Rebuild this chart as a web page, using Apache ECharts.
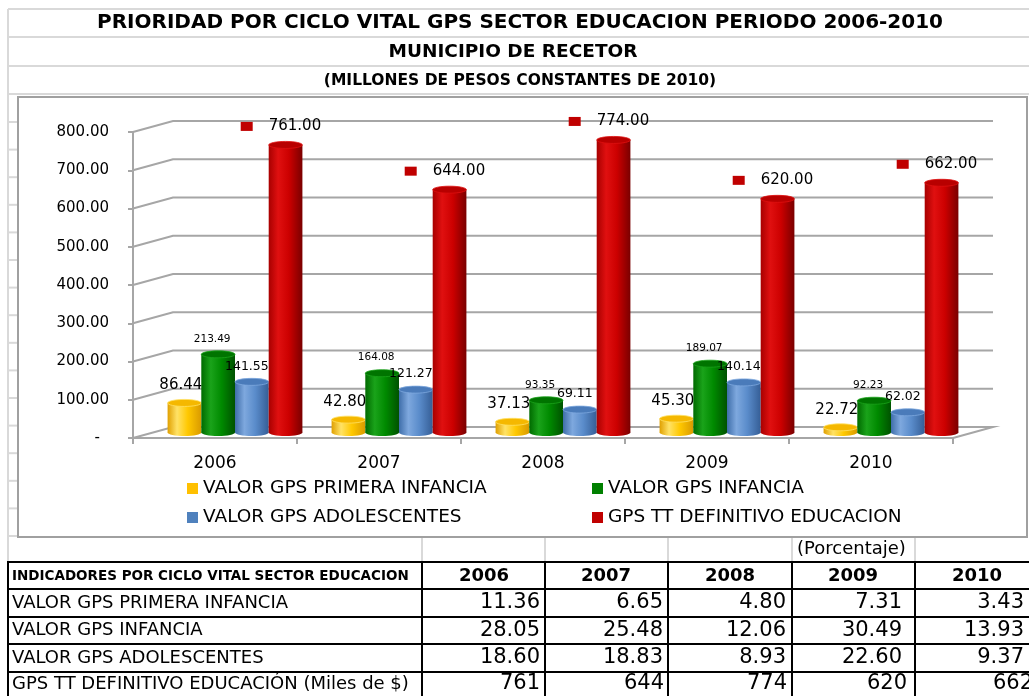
<!DOCTYPE html>
<html><head><meta charset="utf-8">
<script src="https://cdn.jsdelivr.net/npm/echarts@6/dist/echarts.min.js"></script>
<style>html,body{margin:0;padding:0;background:#fff}#c{width:1029px;height:696px}</style>
</head><body><div id="c"></div>
<script>
// ---------- DATA ----------
const titleLines = [
  'PRIORIDAD POR CICLO VITAL GPS SECTOR EDUCACION PERIODO 2006-2010',
  'MUNICIPIO DE RECETOR',
  '(MILLONES DE PESOS CONSTANTES DE 2010)'
];
const years = ['2006', '2007', '2008', '2009', '2010'];
const seriesNames = ['VALOR GPS PRIMERA INFANCIA', 'VALOR GPS INFANCIA', 'VALOR GPS ADOLESCENTES', 'GPS TT DEFINITIVO EDUCACION'];
const primeraInfancia = [86.44, 42.80, 37.13, 45.30, 22.72];
const infancia = [213.49, 164.08, 93.35, 189.07, 92.23];
const adolescentes = [141.55, 121.27, 69.11, 140.14, 62.02];
const ttEducacion = [761.00, 644.00, 774.00, 620.00, 662.00];
const yMin = 0, yMax = 800, yStep = 100;

const tableHeader = 'INDICADORES POR CICLO VITAL SECTOR EDUCACION';
const tableUnit = '(Porcentaje)';
const tableRowLabels = ['VALOR GPS PRIMERA INFANCIA', 'VALOR GPS INFANCIA', 'VALOR GPS ADOLESCENTES', 'GPS TT DEFINITIVO EDUCACIÓN (Miles de $)'];
const pctPrimeraInfancia = [11.36, 6.65, 4.80, 7.31, 3.43];
const pctInfancia = [28.05, 25.48, 12.06, 30.49, 13.93];
const pctAdolescentes = [18.60, 18.83, 8.93, 22.60, 9.37];
const totalMiles = [761, 644, 774, 620, 662];

// ---------- STYLE / LAYOUT ----------
const FONT = "'DejaVu Sans', Verdana, sans-serif";
const GRID = { left: 133, top: 132, width: 820, height: 306 };
const DX = 40, DY = -11;           // 3D depth offset of the back wall
const BAR_FRAC = 0.2055;           // bar width / category band
const CAP_RY = 3.5;
const WALL = '#a6a6a6';
const palettes = [
  { base: '#FFC000', stops: ['#E0A000', '#FFE266', '#FFC800', '#D99A00'], cap: '#F5B800' },
  { base: '#008000', stops: ['#006A00', '#1AA31A', '#008A00', '#005200'], cap: '#007400' },
  { base: '#4F81BD', stops: ['#3F6EAA', '#7EA8DE', '#5A8CCB', '#355E96'], cap: '#4A7BBA' },
  { base: '#C00000', stops: ['#A80000', '#E01010', '#CC0000', '#7A0000'], cap: '#B80000' }
];
const labelCfg = [
  { size: 15, dx: 'right', dy: -14 },
  { size: 10.5, dx: -6, dy: -12 },
  { size: 12.5, dx: -5, dy: -12 },
  { size: 15, dx: 'red', dy: -15 }
];

const seriesValues = [primeraInfancia, infancia, adolescentes, ttEducacion];
const yTickValues = [];
for (let v = yMin; v <= yMax; v += yStep) yTickValues.push(v);

function grad(st) {
  return new echarts.graphic.LinearGradient(0, 0, 1, 0, [
    { offset: 0, color: st[0] }, { offset: 0.28, color: st[1] },
    { offset: 0.6, color: st[2] }, { offset: 1, color: st[3] }
  ]);
}

function barRenderer(s) {
  const pal = palettes[s], lc = labelCfg[s];
  return function (params, api) {
    const i = api.value(0), v = api.value(1);
    const pTop = api.coord([i, v]);
    const pBase = api.coord([i, 0]);
    const band = api.size([1, 0])[0];
    const bw = band * BAR_FRAC;
    const xl = pTop[0] - 2 * bw + s * bw + DX / 2;
    const yt = pTop[1] + DY / 2 + CAP_RY;
    const yb = pBase[1] + DY / 2;
    const cx = xl + bw / 2;
    const children = [
      { type: 'ellipse', shape: { cx: cx, cy: yb, rx: bw / 2, ry: CAP_RY }, style: { fill: grad(pal.stops) } },
      { type: 'rect', shape: { x: xl, y: yt, width: bw, height: Math.max(0, yb - yt) }, style: { fill: grad(pal.stops) } },
      { type: 'ellipse', shape: { cx: cx, cy: yt, rx: bw / 2, ry: CAP_RY }, style: { fill: pal.cap, stroke: pal.stops[1], lineWidth: 0.8 } }
    ];
    const txt = v.toFixed(2);
    const ly = pTop[1] + DY / 2 + lc.dy;
    const font = lc.size + 'px ' + FONT;
    if (lc.dx === 'right') {
      children.push({ type: 'text', style: { text: txt, x: xl + bw + 1, y: ly, font: font, fill: '#000', textAlign: 'right', textVerticalAlign: 'middle' } });
    } else if (lc.dx === 'red') {
      children.push({ type: 'rect', shape: { x: xl - 28, y: ly - 4.5, width: 12, height: 9 }, style: { fill: pal.base } });
      children.push({ type: 'text', style: { text: txt, x: xl, y: ly, font: font, fill: '#000', textAlign: 'left', textVerticalAlign: 'middle' } });
    } else {
      children.push({ type: 'text', style: { text: txt, x: cx + lc.dx, y: ly, font: font, fill: '#000', textAlign: 'center', textVerticalAlign: 'middle' } });
    }
    return { type: 'group', children: children };
  };
}

function renderWall(params, api) {
  const v = api.value(1);
  const cs = params.coordSys;
  const y = api.coord([0, v])[1];
  const x0 = cs.x, x1 = cs.x + cs.width;
  const pts = [[x0, y], [x0 + DX, y + DY], [x1 + DX, y + DY]];
  if (v === yMin) pts.push([x1, y]);
  return { type: 'polyline', shape: { points: pts }, style: { stroke: WALL, lineWidth: 2, fill: null } };
}

// ---------- spreadsheet / table graphics ----------
const G = [];
const LIGHT = '#d9d9d9';
function line(x1, y1, x2, y2, stroke, w) {
  G.push({ type: 'line', z: 0, shape: { x1, y1, x2, y2 }, style: { stroke, lineWidth: w } });
}
function text(t, x, y, font, align, fill) {
  G.push({ type: 'text', z: 5, style: { text: t, x, y, font, fill: fill || '#000', textAlign: align, textVerticalAlign: 'middle' } });
}
// light sheet gridlines
[9, 37, 66, 94].forEach(y => line(8, y, 1029, y, LIGHT, 2));
line(8, 9, 8, 561, LIGHT, 2);
for (let y = 122; y < 537; y += 27.6) line(8, y, 18, y, LIGHT, 2);
const colX = [422, 545, 668, 792, 915];
colX.forEach(x => line(x, 537, x, 561, LIGHT, 2));
// chart frame
G.push({ type: 'rect', z: 0, shape: { x: 18, y: 97, width: 1009, height: 440 }, style: { fill: 'none', stroke: '#a0a0a0', lineWidth: 2 } });
// titles
text(titleLines[0], 520, 23, "bold 20px " + FONT, 'center');
text(titleLines[1], 513, 52, "bold 18.5px " + FONT, 'center');
text(titleLines[2], 520, 81, "bold 15.5px " + FONT, 'center');
// table
const rowY = [562, 589, 617, 644, 672];
rowY.forEach(y => line(8, y, 1029, y, '#000', 2));
[8].concat(colX).forEach(x => line(x, 561, x, 696, '#000', 2));
text(tableUnit, 797, 549, "18px " + FONT, 'left');
text(tableHeader, 12, 576, "bold 13.5px " + FONT, 'left');
const colCenters = [484, 606, 730, 853, 977];
years.forEach((yr, i) => text(yr, colCenters[i], 576, "bold 18px " + FONT, 'center'));
const tableRows = [pctPrimeraInfancia, pctInfancia, pctAdolescentes];
const pctRight = [540, 663, 786, 902, 1024];
const totRight = [540, 664, 787, 907, 1033];
const rowCenters = [603, 630.5, 658, 684];
tableRowLabels.forEach((lab, r) => text(lab, 12, rowCenters[r], "18px " + FONT, 'left'));
tableRows.forEach((row, r) => row.forEach((v, c) => text(v.toFixed(2), pctRight[c], rowCenters[r], "21px " + FONT, 'right')));
totalMiles.forEach((v, c) => text(String(v), totRight[c], rowCenters[3], "21px " + FONT, 'right'));

// ---------- CHART ----------
const chart = echarts.init(document.getElementById('c'), null, { renderer: 'canvas' });
const legendPos = [[187, 479], [592, 479], [187, 508], [592, 508]];
chart.setOption({
  animation: false,
  backgroundColor: '#fff',
  graphic: { elements: G },
  grid: { left: GRID.left, top: GRID.top, width: GRID.width, height: GRID.height, containLabel: false },
  legend: seriesNames.map((n, i) => ({
    data: [n], left: legendPos[i][0], top: legendPos[i][1], padding: 0,
    icon: 'rect', itemWidth: 11, itemHeight: 11, itemGap: 0,
    textStyle: { fontFamily: FONT, fontSize: 18.5, color: '#000' }, selectedMode: false
  })),
  xAxis: {
    type: 'category', data: years, z: 6,
    axisLine: { lineStyle: { color: WALL, width: 2 } },
    axisTick: { show: true, length: 6, lineStyle: { color: WALL, width: 2 } },
    axisLabel: { margin: 17, fontFamily: FONT, fontSize: 17, color: '#000' },
    splitLine: { show: false }
  },
  yAxis: {
    type: 'value', min: yMin, max: yMax, interval: yStep, z: 6,
    axisLine: { show: true, lineStyle: { color: WALL, width: 2 } },
    axisTick: { show: true, length: 5, lineStyle: { color: WALL, width: 2 } },
    axisLabel: {
      margin: 24, fontFamily: FONT, fontSize: 15, color: '#000',
      formatter: v => v === 0 ? '{z|-}' : v.toFixed(2),
      rich: { z: { padding: [0, 9, 0, 0], fontFamily: FONT, fontSize: 15, color: '#000' } }
    },
    splitLine: { show: false }
  },
  series: [
    { type: 'custom', name: 'wall', silent: true, z: 1, renderItem: renderWall,
      data: yTickValues.map(v => [0, v]), encode: { x: 0, y: 1 } }
  ].concat(seriesNames.map((n, s) => ({
    type: 'custom', name: n, z: 3 + s,
    itemStyle: { color: palettes[s].base },
    renderItem: barRenderer(s),
    data: seriesValues[s].map((v, i) => [i, v]),
    encode: { x: 0, y: 1 }
  })))
});
</script>
</body></html>
